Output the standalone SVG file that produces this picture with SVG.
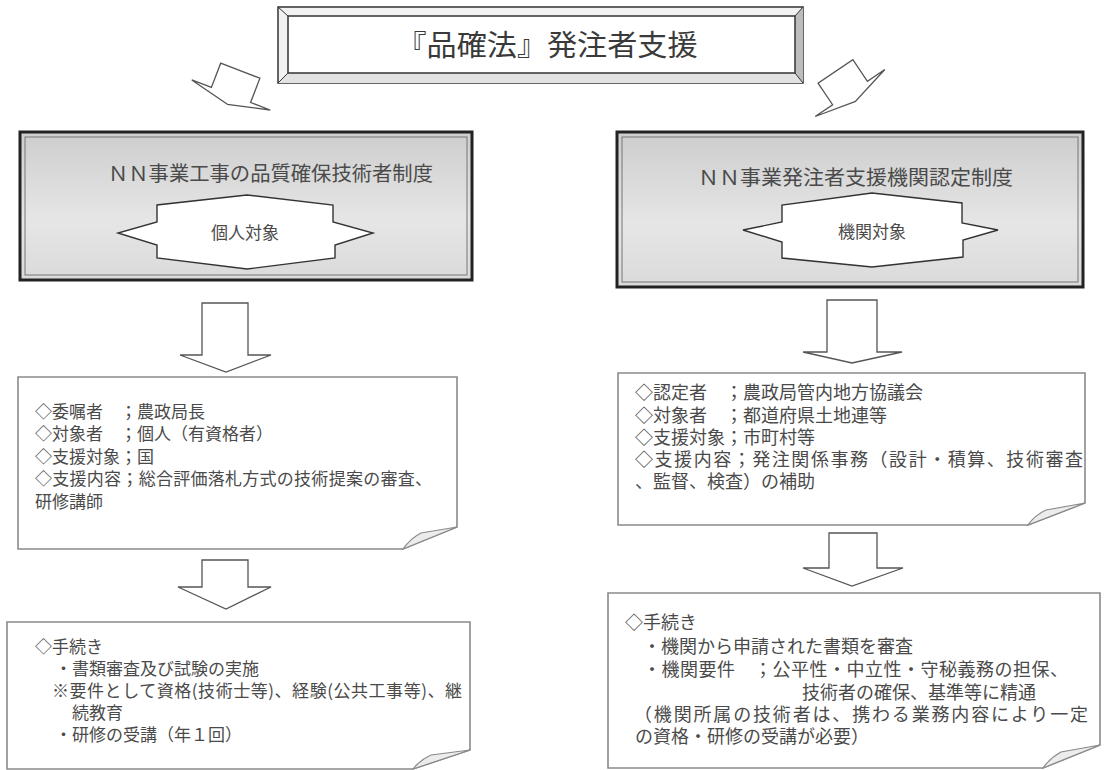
<svg xmlns="http://www.w3.org/2000/svg" width="1106" height="770" viewBox="0 0 1106 770">
<defs>
<linearGradient id="hdr" x1="0" y1="0" x2="0" y2="1">
<stop offset="0" stop-color="#cdcdcd"/>
<stop offset="0.6" stop-color="#e6e6e6"/>
<stop offset="1" stop-color="#dadada"/>
</linearGradient>
<style>
.t{font-family:"Noto Sans CJK JP","Noto Sans CJK SC",sans-serif;fill:#4a4a4a}
.b17{font-size:17px}
.b18{font-size:18px}
.arrow{fill:#fff;stroke:#555;stroke-width:1.3;stroke-linejoin:miter}
.note{fill:#fff;stroke:#8a8a8a;stroke-width:1.6}
.flap{fill:#ececec;stroke:#8a8a8a;stroke-width:1.2}
.star{fill:#fff;stroke:#333;stroke-width:1.4}
.hbox{fill:url(#hdr);stroke:#222;stroke-width:3}
.hin{fill:none;stroke:#777;stroke-width:1}
</style>
</defs>
<rect width="1106" height="770" fill="#fff"/>

<g id="title">
<rect x="278" y="7" width="525" height="76" fill="#f2f2f2" stroke="#333" stroke-width="1.5"/>
<polygon points="795,16 803,7 803,83 795,73" fill="#bdbdbd"/>
<polygon points="288,73 795,73 803,83 278,83" fill="#e2e2e2"/>
<rect x="288" y="16" width="507" height="57" fill="#fff" stroke="#333" stroke-width="1.5"/>
<g stroke="#333" stroke-width="1">
<line x1="278" y1="7" x2="288" y2="16"/><line x1="803" y1="7" x2="795" y2="16"/>
<line x1="278" y1="83" x2="288" y2="73"/><line x1="803" y1="83" x2="795" y2="73"/>
</g>
<text class="t" x="547" y="56" font-size="29" text-anchor="middle" textLength="301" lengthAdjust="spacingAndGlyphs" style="fill:#3a3a3a">『品確法』発注者支援</text>
</g>

<g id="header-left">
<rect class="hbox" x="20" y="132" width="452" height="148"/>
<rect class="hin" x="25" y="137" width="442" height="138"/>
<text class="t" x="270.5" y="181" font-size="20" text-anchor="middle" textLength="325" lengthAdjust="spacingAndGlyphs">ＮＮ事業工事の品質確保技術者制度</text>
<polygon class="star" points="247,195 157,205 157,222 118,233 157,245 157,258 247,269 335,258 335,245 373,233 333,222 333,205"/>
<text class="t" x="245" y="239" font-size="17" text-anchor="middle">個人対象</text>
</g>

<g id="header-right">
<rect class="hbox" x="617" y="132" width="466" height="155"/>
<rect class="hin" x="622" y="137" width="456" height="145"/>
<text class="t" x="855.5" y="185" font-size="20" text-anchor="middle" textLength="315" lengthAdjust="spacingAndGlyphs">ＮＮ事業発注者支援機関認定制度</text>
<polygon class="star" points="872,193 782,205 782,222 743,230 782,242 782,258 872,267 963,257 963,240 998,230 962,223 962,203"/>
<text class="t" x="872" y="238" font-size="17" text-anchor="middle">機関対象</text>
</g>

<g id="connectors">
<polygon class="arrow" transform="translate(227.4,104.3) rotate(21)" points="0,0 -42,-10 -21,-10 -21,-36 21,-36 21,-10 42,-10"/>
<polygon class="arrow" transform="translate(855.6,101.3) rotate(-34)" points="0,0 -42,-10 -21,-10 -21,-36 21,-36 21,-10 42,-10"/>
<polygon class="arrow" points="202,303 248,303 248,355 271,355 226,372 180,355 202,355"/>
<polygon class="arrow" points="202,560 248,560 248,587 271,587 226,609 178,587 202,587"/>
<polygon class="arrow" points="827,300 877,300 877,352 902,352 852,363 803,352 827,352"/>
<polygon class="arrow" points="829,533 877,533 877,568 903,568 852,586 803,568 829,568"/>
</g>

<g id="note-left-1">
<path class="note" d="M18,377 H457 V527 L403,549 H18 Z"/>
<path class="flap" d="M457,527 L421,533 Q411,538 403,549 Z"/>
<text class="t b17" x="35" y="418">◇委嘱者　；農政局長</text>
<text class="t b17" x="35" y="440">◇対象者　；個人（有資格者）</text>
<text class="t b17" x="35" y="463">◇支援対象；国</text>
<text class="t b17" x="35" y="485" textLength="397" lengthAdjust="spacing">◇支援内容；総合評価落札方式の技術提案の審査、</text>
<text class="t b17" x="35" y="508">研修講師</text>
</g>

<g id="note-left-2">
<path class="note" d="M7,622 H470 V750 L413,769 H7 Z"/>
<path class="flap" d="M470,750 L431,755 Q420,760 413,769 Z"/>
<text class="t b17" x="35" y="653">◇手続き</text>
<text class="t b17" x="55" y="675">・書類審査及び試験の実施</text>
<text class="t b17" x="52" y="697" textLength="410" lengthAdjust="spacing">※要件として資格(技術士等)、経験(公共工事等)、継</text>
<text class="t b17" x="72" y="719">続教育</text>
<text class="t b17" x="55" y="741">・研修の受講（年１回）</text>
</g>

<g id="note-right-1">
<path class="note" d="M618,373 H1085 V503 L1028,525 H618 Z"/>
<path class="flap" d="M1085,503 L1046,510 Q1035,515 1028,525 Z"/>
<text class="t b18" x="635" y="399">◇認定者　；農政局管内地方協議会</text>
<text class="t b18" x="635" y="422">◇対象者　；都道府県土地連等</text>
<text class="t b18" x="635" y="444">◇支援対象；市町村等</text>
<text class="t b18" x="635" y="466" textLength="448" lengthAdjust="spacing">◇支援内容；発注関係事務（設計・積算、技術審査</text>
<text class="t b18" x="635" y="488">、監督、検査）の補助</text>
</g>

<g id="note-right-2">
<path class="note" d="M608,593 H1100 V745 L1043,768 H608 Z"/>
<path class="flap" d="M1100,745 L1061,752 Q1050,758 1043,768 Z"/>
<text class="t b18" x="625" y="629">◇手続き</text>
<text class="t b18" x="643" y="653">・機関から申請された書類を審査</text>
<text class="t b18" x="643" y="676" textLength="425" lengthAdjust="spacing">・機関要件　；公平性・中立性・守秘義務の担保、</text>
<text class="t b18" x="802" y="699">技術者の確保、基準等に精通</text>
<text class="t b18" x="634" y="721" textLength="454" lengthAdjust="spacing">（機関所属の技術者は、携わる業務内容により一定</text>
<text class="t b18" x="635" y="743">の資格・研修の受講が必要）</text>
</g>
</svg>
